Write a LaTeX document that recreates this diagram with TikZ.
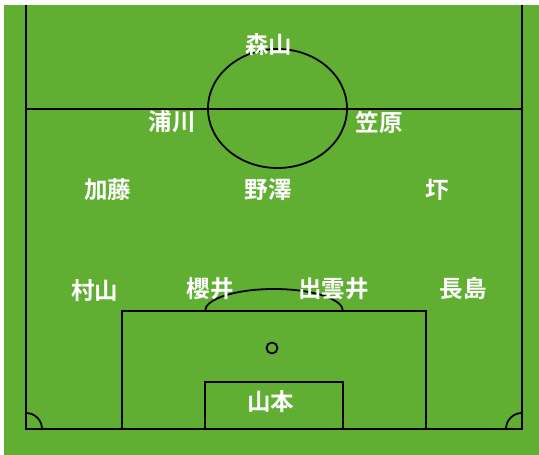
\documentclass[tikz,border=0pt]{standalone}
\usepackage{fontspec}
\newfontfamily\cjk{Noto Sans CJK JP}[BoldFont=* Bold]
\definecolor{pitch}{RGB}{96,175,50}
\begin{document}
\begin{tikzpicture}[x=1pt,y=-1pt,
  fieldline/.style={draw=black,line width=1.8pt},
  player/.style={text=white,font=\cjk\bfseries\fontsize{23.5}{25}\selectfont,inner sep=0pt}]
\useasboundingbox (0,0) rectangle (539,455);
\fill[white] (0,0) rectangle (539,455);
\fill[pitch] (4,5) rectangle (539,455);
% outline
\draw[fieldline] (26,5) -- (26,429) -- (522,429) -- (522,5);
\draw[fieldline] (26,109) -- (522,109);
\draw[fieldline] (277.5,108.5) ellipse [x radius=69.5, y radius=59.5];
% penalty area
\draw[fieldline] (122,429) -- (122,311) -- (426,311) -- (426,429);
\draw[fieldline] (205,429) -- (205,382) -- (343,382) -- (343,429);
\draw[fieldline] (205,311) arc[start angle=180,end angle=0,x radius=69,y radius=-22];
\draw[fieldline] (272,348) circle [radius=5.5];
% corner arcs
\draw[fieldline] (26,413) arc[start angle=90,end angle=0,x radius=16,y radius=-16];
\draw[fieldline] (506,429) arc[start angle=180,end angle=90,x radius=16,y radius=-16];
% players
\node[player] (moriyama) at (268.5,45) {森山};
\node[player] (urakawa) at (172,122) {浦川};
\node[player] (kasahara) at (379,122) {笠原};
\node[player] (kato) at (107.5,190) {加藤};
\node[player] (nozawa) at (268,190) {野澤};
\node[player] (akutsu) at (437,190) {圷};
\node[player] (murayama) at (94.5,291) {村山};
\node[player] (sakurai) at (210,289) {櫻井};
\node[player] (izumoi) at (333.5,289) {出雲井};
\node[player] (nagashima) at (463,289) {長島};
\node[player] (yamamoto) at (270.5,402) {山本};
\end{tikzpicture}
\end{document}
